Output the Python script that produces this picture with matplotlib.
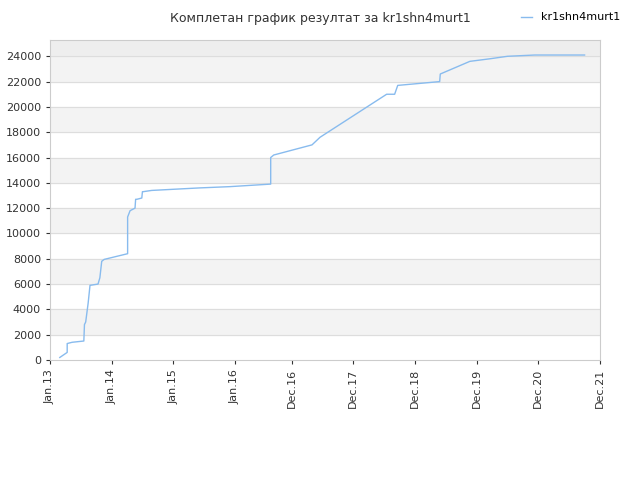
import matplotlib
matplotlib.use("Agg")
import matplotlib.pyplot as plt

years = [2013.16, 2013.28, 2013.28, 2013.36, 2013.55, 2013.56, 2013.58, 2013.62, 2013.65, 2013.78,
         2013.81, 2013.84, 2013.88, 2014.26, 2014.26, 2014.30, 2014.38, 2014.39, 2014.41, 2014.49, 2014.50,
         2014.51, 2014.65, 2015.43, 2015.92, 2016.58, 2016.58, 2016.63, 2017.25, 2017.38, 2018.46,
         2018.59, 2018.64, 2019.32, 2019.33, 2019.81, 2020.13, 2020.42, 2020.86, 2021.67]
values = [200, 600, 1300, 1400, 1500, 2800, 3000, 4500, 5900, 6000,
          6500, 7800, 7950, 8400, 11300, 11800, 12000, 12700, 12700, 12800, 13300,
          13300, 13400, 13600, 13700, 13900, 16000, 16200, 17000, 17600, 21000,
          21000, 21700, 22000, 22600, 23600, 23800, 24000, 24100, 24100]
tick_pos = [2013, 2014, 2015, 2016, 2016.92, 2017.92, 2018.92, 2019.92, 2020.92, 2021.92]
tick_labels = ["Jan.13", "Jan.14", "Jan.15", "Jan.16", "Dec.16", "Dec.17", "Dec.18", "Dec.19", "Dec.20", "Dec.21"]

fig = plt.figure(figsize=(6.4, 4.8), dpi=100)
ax = fig.add_axes([0.078, 0.25, 0.8595, 0.667])
ymax = 25300
for lo in range(2000, 24000, 4000):
    ax.axhspan(lo, lo + 2000, color="#f3f3f3", zorder=0)
ax.axhspan(24000, ymax, color="#eeeeee", zorder=0)
for y in range(2000, 26000, 2000):
    ax.axhline(y, color="#dddddd", lw=0.8, zorder=1)
ax.plot(years, values, color="#88bbee", lw=1, label="kr1shn4murt1", zorder=3)
ax.set_xlim(2013, 2021.92)
ax.set_ylim(0, ymax)
ax.set_yticks(range(0, 26000, 2000))
ax.set_xticks(tick_pos)
ax.set_xticklabels(tick_labels, rotation=90)
ax.tick_params(labelsize=8, colors="#333333", length=3)
for s in ax.spines.values():
    s.set_color("#cccccc")
fig.text(0.5, 0.975, "Комплетан график резултат за kr1shn4murt1", ha="center", va="top", fontsize=9, color="#333333")
fig.legend(loc="upper right", bbox_to_anchor=(0.985, 0.995), frameon=False, fontsize=8, handlelength=1)
fig.savefig("out.png")
